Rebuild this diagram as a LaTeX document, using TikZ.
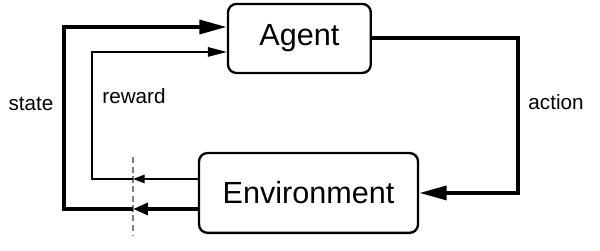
\documentclass[tikz,border=0pt]{standalone}
\usepackage{fontspec}
\setmainfont{Liberation Sans}
\usetikzlibrary{arrows.meta, positioning, calc}

\begin{document}
\begin{tikzpicture}[font=\fontsize{9.8}{12}\selectfont,
    box/.style={draw, rounded corners=4pt, line width=1.1pt, font=\fontsize{14.5}{17}\selectfont, inner sep=0pt},
    bold/.style={line width=1.9pt},
    fine/.style={line width=0.7pt},
    bighead/.style={-{Triangle[length=13pt, width=6.5pt]}},
    smallhead/.style={-{Triangle[length=9pt, width=4.5pt]}}]
\useasboundingbox (0,0) rectangle (10,4.183);
\node[box, minimum width=2.38cm, minimum height=1.15cm] (agent) at (4.99,3.542) {Agent};
\node[box, minimum width=3.65cm, minimum height=1.33cm] (env) at (5.142,0.967) {Environment};
\node (state) at (0.517,2.45) {state};
\node (reward) at (2.233,2.583) {reward};
\node (action) at (9.267,2.483) {action};

% cut between the two time steps
\coordinate (cuttop) at (2.217,1.567);
\coordinate (cutbot) at (2.217,0.267);
\draw[gray, line width=0.5pt, dash pattern=on 3pt off 1.6pt] (cuttop) -- (cutbot);

\coordinate (sout) at ($(env.west)+(0,-0.267)$);
\coordinate (rout) at ($(env.west)+(0,0.233)$);
\coordinate (sin) at ($(agent.west)+(0,0.191)$);
\coordinate (rin) at ($(agent.west)+(0,-0.225)$);
\coordinate (scut) at (cutbot |- sout);
\coordinate (rcut) at (cutbot |- rout);

\draw[bold, -{Triangle[length=7pt, width=5.5pt]}] (sout) -- (scut);
\draw[fine, -{Triangle[length=5.5pt, width=4pt]}] (rout) -- (rcut);
\draw[bold, bighead] (scut) -- (1.067,0 |- scut) |- (sin);
\draw[fine, smallhead] (rcut) -- (1.533,0 |- rcut) |- (rin);
\draw[bold, bighead] (agent.east) -- (8.633,0 |- agent.east) |- (env.east);
\end{tikzpicture}
\end{document}
